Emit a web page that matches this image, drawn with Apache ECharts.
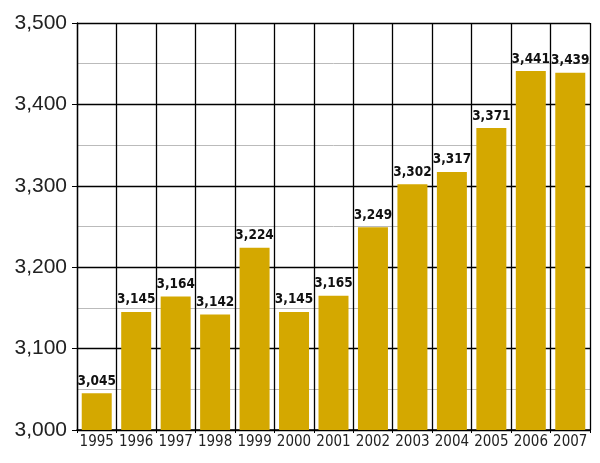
<!DOCTYPE html>
<html>
<head>
  <meta charset="UTF-8">
  <script src="https://cdn.jsdelivr.net/npm/echarts@6/dist/echarts.min.js"></script>
</head>
<body style="margin: 0; background: #fff;">
  <div id="main" style="width: 600px; height: 463px;"></div>
  <script>
    var years = ['1995', '1996', '1997', '1998', '1999', '2000', '2001', '2002', '2003', '2004', '2005', '2006', '2007'];
    var values = [3045, 3145, 3164, 3142, 3224, 3145, 3165, 3249, 3302, 3317, 3371, 3441, 3439];

    var chart = echarts.init(document.getElementById('main'));
    chart.setOption({
      animation: false,
      grid: { left: 77, right: 10, top: 23, bottom: 33 },
      xAxis: {
        type: 'category',
        data: years,
        axisLine: { show: true, lineStyle: { color: '#000', width: 1.5 } },
        axisTick: { show: true, interval: 0, length: 3, lineStyle: { color: '#000' } },
        axisLabel: { interval: 0, color: '#222', fontSize: 15, fontFamily: 'DejaVu Sans Condensed', margin: 5 },
        splitLine: { show: true, interval: 0, lineStyle: { color: '#000', width: 1.3 } }
      },
      yAxis: {
        type: 'value',
        min: 3000,
        max: 3500,
        interval: 100,
        axisLine: { show: true, lineStyle: { color: '#000', width: 1.3 } },
        axisTick: { show: true, length: 5, lineStyle: { color: '#000' } },
        axisLabel: {
          color: '#222', fontSize: 21, fontFamily: 'Liberation Sans', margin: 10,
          formatter: function (v) { return v.toLocaleString('en-US'); }
        },
        splitLine: { show: true, lineStyle: { color: '#000', width: 1.3 } },
        minorTick: { show: false, splitNumber: 2 },
        minorSplitLine: { show: true, lineStyle: { color: '#bbb', width: 1 } }
      },
      series: [{
        type: 'bar',
        data: values,
        barWidth: '76%',
        itemStyle: { color: '#d4a800' },
        label: {
          show: true,
          position: 'top',
          distance: 5,
          color: '#111',
          fontSize: 13.5,
          fontWeight: 'bold',
          fontFamily: 'DejaVu Sans Condensed',
          formatter: function (p) { return p.value.toLocaleString('en-US'); }
        }
      }]
    });
  </script>
</body>
</html>
